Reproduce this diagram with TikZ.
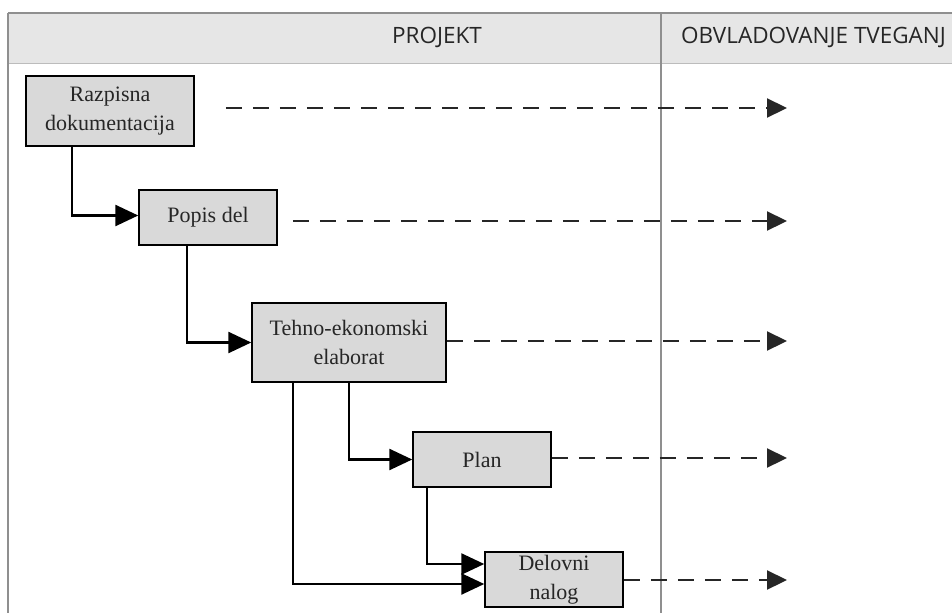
\documentclass[tikz,border=0pt]{standalone}
\usepackage{fontspec}
\setmainfont{Liberation Serif}
\newfontfamily\headfont{Open Sans}
\usetikzlibrary{arrows.meta}

\definecolor{headfill}{HTML}{E6E6E6}
\definecolor{rulegray}{HTML}{8F8F8F}
\definecolor{boxfill}{HTML}{D9D9D9}
\definecolor{inkgray}{HTML}{262626}

\tikzset{
  stagebox/.style={draw=black, line width=1.5pt, fill=boxfill, align=center,
    inner sep=0pt, text=inkgray,
    font=\fontsize{22}{29}\selectfont},
  flow/.style={line width=2.6pt, draw=black,
    -{Triangle[length=23pt,width=21pt]}},
  risk/.style={line width=2.2pt, draw=black!85, dash pattern=on 16pt off 11pt,
    -{Triangle[length=20pt,width=19pt]}},
  headtext/.style={text=black!85, font=\headfont\fontsize{22.5}{26}\selectfont},
}

\begin{document}
\begin{tikzpicture}[x=1pt, y=-1pt]
\useasboundingbox (0,0) rectangle (952,613);

% table frame and header band
\fill[headfill] (8,13) rectangle (952,63);
\draw[rulegray!60, line width=0.8pt] (8,63) -- (952,63);
\draw[rulegray, line width=1.2pt] (8,13) -- (952,13);
\draw[rulegray, line width=1.5pt] (8,13) -- (8,613);
\draw[rulegray, line width=1.2pt] (661,13) -- (661,613);

\node[headtext] (hproj) at (437,37) {PROJEKT};
\node[headtext] (hrisk) at (813.5,37) {OBVLADOVANJE TVEGANJ};

% project stages
\node[stagebox, minimum width=168pt, minimum height=70pt] (raz) at (110,111)
  {Razpisna\\dokumentacija};
\node[stagebox, minimum width=138pt, minimum height=55pt] (pop) at (208,217.5)
  {Popis del};
\node[stagebox, minimum width=194pt, minimum height=79pt] (teh) at (349,342.5)
  {Tehno-ekonomski\\elaborat};
\node[stagebox, minimum width=138pt, minimum height=55pt] (plan) at (482,459.5)
  {Plan};
\node[stagebox, minimum width=138pt, minimum height=55pt] (del) at (554,579.5)
  {Delovni\\nalog};

% flow between stages
\draw[flow] ([xshift=-38pt]raz.south) |- ([yshift=2pt]pop.west);
\draw[flow] ([xshift=-21pt]pop.south) |- (teh.west);
\draw[flow] (teh.south) |- (plan.west);
\draw[flow] ([xshift=-56pt]teh.south) |- ([yshift=-4.5pt]del.west);
\draw[flow] ([xshift=-55pt]plan.south) |- ([yshift=15.5pt]del.west);

% hand-over to risk management
\coordinate (r1) at (787,108);
\coordinate (r2) at (787,221);
\coordinate (r3) at (787,341);
\coordinate (r4) at (787,458);
\coordinate (r5) at (787,580);
\draw[risk] ([xshift=31pt,yshift=3pt]raz.east) -- (r1);
\draw[risk] ([xshift=15pt,yshift=-3.5pt]pop.east) -- (r2);
\draw[risk] ([yshift=1.5pt]teh.east) -- (r3);
\draw[risk] ([yshift=1.5pt]plan.east) -- (r4);
\draw[risk] ([yshift=-0.5pt]del.east) -- (r5);
\end{tikzpicture}
\end{document}
